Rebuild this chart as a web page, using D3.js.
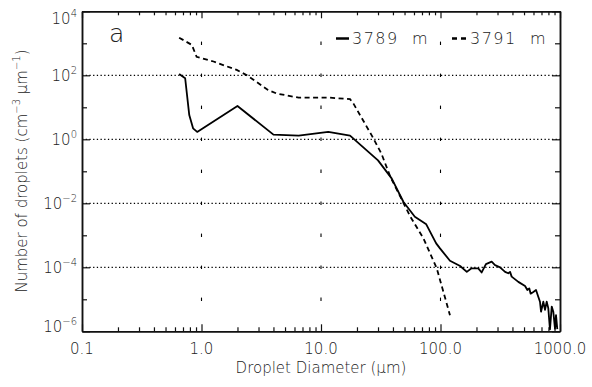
<!DOCTYPE html>
<html>
<head>
<meta charset="utf-8">
<script src="https://cdn.jsdelivr.net/npm/d3@7"></script>
<style>
body { margin: 0; background: #fff; }
text { font-family: "DejaVu Sans", sans-serif; font-weight: 300; fill: #222; }
</style>
</head>
<body>
<div id="chart"></div>
<script>
const width = 592
const height = 387
const margin = {
    top: 11.3,
    bottom: 55.7,
    left: 82,
    right: 32
}

// 3789 m, solid line
const diam3789 = [0.65, 0.73, 0.79, 0.85, 0.92, 2.0, 4.0, 6.5, 11.5, 17.5, 30, 39, 49, 61, 76, 92, 99,
    120, 146, 166, 182, 207, 221, 240, 268, 286, 315, 347, 369, 382, 394, 448, 510, 533, 553, 568,
    598, 630, 658, 680, 694, 725, 749, 774, 798, 824, 853, 879, 908, 926, 949]
const conc3789 = [110, 81, 5.7, 2.2, 1.7, 11, 1.4, 1.3, 1.7, 1.3, 0.22, 0.06, 0.011, 0.0038, 0.0022, 5.6e-4, 3.9e-4,
    1.6e-4, 1.1e-4, 7.2e-5, 9.3e-5, 9.3e-5, 6.9e-5, 1.26e-4, 1.5e-4, 1.17e-4, 1.0e-4, 7.2e-5, 6.5e-5, 7.2e-5, 5.1e-5, 3.5e-5, 2.6e-5, 1.95e-5, 2.2e-5, 1.5e-5,
    1.7e-5, 1.95e-5, 1.2e-5, 8.4e-6, 4.1e-6, 8.4e-6, 4.7e-6, 8.4e-6, 5.3e-6, 1.15e-6, 5.9e-6, 4.1e-6, 1.2e-6, 3.2e-6, 1.17e-6]

// 3791 m, dashed line
const diam3791 = [0.65, 0.83, 0.91, 1.26, 1.97, 2.4, 3.6, 4.25, 6.5, 11.9, 17.5, 18.7, 26.5, 32, 38, 56, 72, 93, 120]
const conc3791 = [1500, 890, 380, 270, 147, 100, 35, 27, 20, 20, 18, 13, 1.35, 0.36, 0.068, 0.0038, 8e-4, 9.3e-5, 3.2e-6]

const xTickValues = [0.1, 1, 10, 100, 1000]
const xTickLabels = ["0.1", "1.0", "10.0", "100.0", "1000.0"]
const yTickExps = [4, 2, 0, -2, -4, -6]
const yMinorExps = [3, 1, -1, -3, -5]
const gridExps = [2, 0, -2, -4]
const legendLabels = ["3789  m", "3791  m"]

const svg = d3.select("#chart").append("svg")
    .attr("width", width)
    .attr("height", height)

let x = d3.scaleLog().domain([0.1, 1000]).range([margin.left, width - margin.right])
let y = d3.scaleLog().domain([1e-6, 1e4]).range([height - margin.bottom, margin.top])

let xMinor = []
for (let e = -1; e < 3; e++) for (let k = 2; k <= 9; k++) xMinor.push(k * Math.pow(10, e))

let gridGroup = svg.append("g")
let axisGroup = svg.append("g")
let elementGroup = svg.append("g")

// dotted horizontal grid
gridGroup.selectAll(".hgrid").data(gridExps).enter().append("line")
    .attr("x1", x(0.1)).attr("x2", x(1000))
    .attr("y1", d => y(Math.pow(10, d))).attr("y2", d => y(Math.pow(10, d)))
    .attr("stroke", "#000").attr("stroke-width", 1.3)
    .attr("stroke-dasharray", "1.3,2.4")

// sparse vertical grid: short dashes at every decade
let vgrid = []
xTickValues.slice(1, 4).forEach(xv => {
    for (let e = -5; e <= 3; e++) vgrid.push([xv, Math.pow(10, e)])
})
gridGroup.selectAll(".vgrid").data(vgrid).enter().append("line")
    .attr("x1", d => x(d[0])).attr("x2", d => x(d[0]))
    .attr("y1", d => y(d[1]) - 1.7).attr("y2", d => y(d[1]) + 1.7)
    .attr("stroke", "#000").attr("stroke-width", 1.1)

// axes
const bottomY = height - margin.bottom
const rightX = width - margin.right
function styleAxis(g) {
    g.select(".domain").attr("stroke", "#111").attr("stroke-width", 1.5)
    g.selectAll(".tick line").attr("stroke", "#111").attr("stroke-width", 1.2)
    g.selectAll(".tick text").remove()
}
axisGroup.append("g").attr("transform", `translate(0,${bottomY})`)
    .call(d3.axisBottom(x).tickValues(xTickValues).tickSize(-7).tickSizeOuter(0).tickFormat(""))
    .call(styleAxis)
axisGroup.append("g").attr("transform", `translate(0,${bottomY})`)
    .call(d3.axisBottom(x).tickValues(xMinor).tickSize(-4).tickSizeOuter(0).tickFormat(""))
    .call(styleAxis)
axisGroup.append("g").attr("transform", `translate(0,${margin.top})`)
    .call(d3.axisTop(x).tickValues(xTickValues).tickSize(-7).tickSizeOuter(0).tickFormat(""))
    .call(styleAxis)
axisGroup.append("g").attr("transform", `translate(0,${margin.top})`)
    .call(d3.axisTop(x).tickValues(xMinor).tickSize(-4).tickSizeOuter(0).tickFormat(""))
    .call(styleAxis)
axisGroup.append("g").attr("transform", `translate(${margin.left},0)`)
    .call(d3.axisLeft(y).tickValues(yTickExps.map(e => Math.pow(10, e))).tickSize(-8).tickSizeOuter(0).tickFormat(""))
    .call(styleAxis)
axisGroup.append("g").attr("transform", `translate(${margin.left},0)`)
    .call(d3.axisLeft(y).tickValues(yMinorExps.map(e => Math.pow(10, e))).tickSize(-5).tickSizeOuter(0).tickFormat(""))
    .call(styleAxis)
axisGroup.append("g").attr("transform", `translate(${rightX},0)`)
    .call(d3.axisRight(y).tickValues(yTickExps.map(e => Math.pow(10, e))).tickSize(-8).tickSizeOuter(0).tickFormat(""))
    .call(styleAxis)
axisGroup.append("g").attr("transform", `translate(${rightX},0)`)
    .call(d3.axisRight(y).tickValues(yMinorExps.map(e => Math.pow(10, e))).tickSize(-5).tickSizeOuter(0).tickFormat(""))
    .call(styleAxis)

// x tick labels
axisGroup.selectAll(".xlab").data(xTickValues).enter().append("text")
    .attr("x", d => x(d)).attr("y", bottomY + 23)
    .attr("text-anchor", "middle").attr("font-size", 15)
    .text((d, i) => xTickLabels[i])

// y tick labels 10^n
let ylab = axisGroup.selectAll(".ylab").data(yTickExps).enter().append("text")
    .attr("x", margin.left - 5)
    .attr("y", d => Math.min(Math.max(y(Math.pow(10, d)), 18), 326.5) + 5.5)
    .attr("text-anchor", "end").attr("font-size", 15)
ylab.append("tspan").text("10")
ylab.append("tspan").attr("font-size", 10).attr("dy", -7)
    .text(d => String(d).replace("-", "\u2212"))

// axis titles
axisGroup.append("text")
    .attr("x", x(10)).attr("y", 373)
    .attr("text-anchor", "middle").attr("font-size", 15)
    .text("Droplet Diameter (\u03bcm)")

let ytitle = axisGroup.append("text")
    .attr("transform", `translate(27,171) rotate(-90)`)
    .attr("text-anchor", "middle").attr("font-size", 15)
ytitle.append("tspan").text("Number of droplets (cm")
ytitle.append("tspan").attr("font-size", 10).attr("dy", -7).text("\u22123")
ytitle.append("tspan").attr("dy", 7).text(" \u03bcm")
ytitle.append("tspan").attr("font-size", 10).attr("dy", -7).text("\u22121")
ytitle.append("tspan").attr("dy", 7).text(")")

// panel letter
axisGroup.append("text")
    .attr("x", 109).attr("y", 42)
    .attr("font-size", 25).attr("font-weight", 200)
    .text("a")

// data lines
let line = d3.line().x(d => x(d[0])).y(d => y(d[1]))

elementGroup.append("path")
    .datum(d3.zip(diam3791, conc3791))
    .attr("d", line)
    .attr("fill", "none").attr("stroke", "#000").attr("stroke-width", 1.8)
    .attr("stroke-dasharray", "5,3.5")

elementGroup.append("path")
    .datum(d3.zip(diam3789, conc3789))
    .attr("d", line)
    .attr("fill", "none").attr("stroke", "#000").attr("stroke-width", 1.8)
    .attr("stroke-linejoin", "round")

// legend
let legend = svg.append("g")
legend.append("line").attr("x1", 336).attr("x2", 349).attr("y1", 38.5).attr("y2", 38.5)
    .attr("stroke", "#000").attr("stroke-width", 2.5)
legend.append("line").attr("x1", 452).attr("x2", 466).attr("y1", 38.5).attr("y2", 38.5)
    .attr("stroke", "#000").attr("stroke-width", 2.5).attr("stroke-dasharray", "5,4")
legend.selectAll(".leg").data(legendLabels).enter().append("text")
    .attr("x", (d, i) => i === 0 ? 352 : 470).attr("y", 43.5)
    .attr("font-size", 16).attr("letter-spacing", 1.5)
    .style("white-space", "pre")
    .text(d => d)
</script>
</body>
</html>
